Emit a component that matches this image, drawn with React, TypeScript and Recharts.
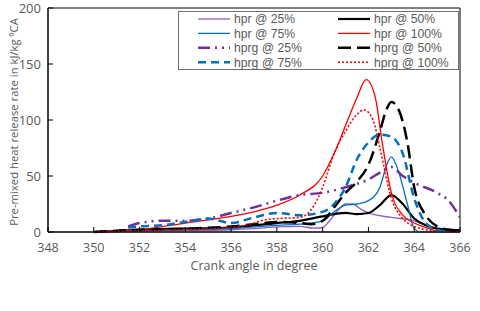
import React from 'react';
import { LineChart, Line, XAxis, YAxis, ReferenceArea } from 'recharts';

// crank angle (deg) and heat release rate (kJ/kg °CA) per series
const hpr25X = [350, 352, 354, 356, 357, 358, 359, 359.6, 360, 360.3, 360.7, 361, 361.3, 361.7, 362, 363, 364, 364.5, 365, 366];
const hpr25Y = [0, 0.5, 1, 2, 3, 4.5, 5, 3.5, 4, 10, 20, 25, 25, 20, 17, 13, 10, 6, 3, 1];

const hpr50X = [350, 352, 354, 356, 358, 359, 360, 361, 361.5, 362, 362.5, 363, 363.5, 364, 364.5, 365, 366];
const hpr50Y = [0, 2, 3, 4, 8, 10, 14, 17, 16, 17, 24, 33, 25, 12, 6, 3, 1.5];

const hpr75X = [350, 352, 354, 356, 358, 359, 360, 360.5, 361, 361.5, 362, 362.5, 362.8, 363, 363.3, 363.7, 364, 364.3, 366];
const hpr75Y = [0, 1, 2, 3, 6, 7, 10, 18, 24, 25, 28, 40, 60, 67, 55, 25, 3, 0, 0];

const hpr100X = [350, 352, 354, 356, 357, 358, 359, 360, 360.5, 361, 361.5, 361.9, 362.3, 362.6, 363, 363.5, 364, 364.5, 365, 366];
const hpr100Y = [0, 2, 8, 14, 18, 24, 33, 50, 70, 95, 120, 136, 120, 80, 35, 15, 8, 4, 1, 0];

const hprg25X = [351.5, 352, 353, 354, 355, 356, 357, 358, 359, 360, 361, 362, 362.5, 363, 363.5, 364, 365, 365.5, 366];
const hprg25Y = [5, 8, 10, 10, 12, 17, 22, 28, 33, 35, 40, 47, 53, 58, 50, 44, 35, 28, 13];

const hprg50X = [350, 352, 354, 356, 357, 358, 359, 359.5, 360, 360.5, 361, 361.5, 362, 362.5, 362.8, 363, 363.3, 363.7, 364, 364.5, 365, 365.5, 366];
const hprg50Y = [0, 2, 3, 5, 7, 9, 8, 7, 10, 22, 35, 45, 60, 90, 110, 116, 110, 80, 40, 15, 5, 2, 1];

const hprg75X = [351.5, 352, 353, 354, 355, 356, 357, 358, 359, 360, 360.5, 361, 361.5, 362, 362.5, 363, 363.5, 364, 364.5, 365, 365.5];
const hprg75Y = [4, 5, 6, 9, 12, 8, 13, 17, 15, 18, 25, 40, 65, 80, 87, 85, 70, 30, 8, 2, 0];

const hprg100X = [350, 352, 354, 356, 357, 357.5, 358, 359, 359.5, 360, 360.5, 361, 361.5, 361.8, 362.2, 362.5, 363, 363.5, 364, 364.5, 365];
const hprg100Y = [0, 1, 2, 4, 8, 11, 12, 13, 20, 40, 70, 90, 105, 109, 100, 75, 30, 12, 5, 2, 0];

const xTicks = [348, 350, 352, 354, 356, 358, 360, 362, 364, 366];
const yTicks = [0, 50, 100, 150, 200];

const toData = (xs: number[], ys: number[]) => xs.map((x, i) => ({ x, y: ys[i] }));

const series = [
  { name: 'hpr @ 25%', xs: hpr25X, ys: hpr25Y, color: '#8E5CC6', width: 1.3, dash: undefined },
  { name: 'hpr @ 50%', xs: hpr50X, ys: hpr50Y, color: '#000000', width: 2.2, dash: undefined },
  { name: 'hpr @ 75%', xs: hpr75X, ys: hpr75Y, color: '#0070C0', width: 1.3, dash: undefined },
  { name: 'hpr @ 100%', xs: hpr100X, ys: hpr100Y, color: '#FF0000', width: 1.3, dash: undefined },
  { name: 'hprg @ 25%', xs: hprg25X, ys: hprg25Y, color: '#7030A0', width: 2.5, dash: '12 5 2 5 2 5' },
  { name: 'hprg @ 50%', xs: hprg50X, ys: hprg50Y, color: '#000000', width: 2.5, dash: '13 6' },
  { name: 'hprg @ 75%', xs: hprg75X, ys: hprg75Y, color: '#0070C0', width: 2.5, dash: '8 5' },
  { name: 'hprg @ 100%', xs: hprg100X, ys: hprg100Y, color: '#FF0000', width: 1.6, dash: '2 2' },
];

const FONT = 'Open Sans, Noto Sans, sans-serif';
const LEGEND_FONT = 'Liberation Sans, Arial, sans-serif';
const GRAY = '#595959';

const LegendBox = () => (
  <div style={{ position: 'absolute', left: 178, top: 11, width: 281, height: 59, border: '1px solid #6f6f6f', boxSizing: 'border-box', background: '#fff' }}>
    <svg width={279} height={57} style={{ display: 'block', overflow: 'visible' }}>
      {series.map((s, i) => {
        const col = i % 2;
        const row = Math.floor(i / 2);
        const lx = col === 0 ? 19 : 159;
        const cy = 7 + row * 14.4;
        return (
          <g key={s.name}>
            <line x1={lx} x2={lx + 32} y1={cy} y2={cy} stroke={s.color} strokeWidth={s.width} strokeDasharray={s.dash} />
            <text x={lx + 36} y={cy + 4.3} fontSize={12.2} fill={GRAY} fontFamily={LEGEND_FONT}>{s.name}</text>
          </g>
        );
      })}
    </svg>
  </div>
);

const YLabel = (props: any) => {
  const vb = props.viewBox || { x: 0, y: 0, width: 0, height: 0 };
  const cx = vb.x - 5;
  const cy = vb.y + vb.height / 2 + 2;
  return (
    <text x={cx} y={cy} transform={`rotate(-90, ${cx}, ${cy})`} textAnchor="middle" dominantBaseline="central" fontSize={11.3} fill={GRAY} fontFamily={FONT}>
      Pre-mixed heat release rate in kJ/kg {'\u2070'}CA
    </text>
  );
};

export default function App() {
  return (
    <div style={{ position: 'absolute', left: 0, top: 0, width: 480, height: 311, background: '#fff' }}>
      <LineChart width={480} height={311} margin={{ top: 8, right: 20, left: 18, bottom: 39 }}>
        <XAxis
          type="number"
          dataKey="x"
          domain={[348, 366]}
          ticks={xTicks}
          allowDataOverflow
          stroke="#000"
          tickSize={-5}
          tickMargin={16}
          tick={{ fill: GRAY, fontSize: 12.5, fontFamily: FONT }}
          label={{ value: 'Crank  angle in degree', position: 'insideBottom', offset: 2, fill: GRAY, fontSize: 12.5, fontFamily: FONT }}
          height={40}
        />
        <YAxis
          type="number"
          domain={[0, 200]}
          ticks={yTicks}
          stroke="#000"
          tickSize={-5}
          tickMargin={12}
          width={30}
          tick={{ fill: GRAY, fontSize: 13, fontFamily: FONT }}
          label={<YLabel />}
        />
        <ReferenceArea x1={348} x2={366} y1={0} y2={200} stroke="#000" strokeWidth={1} fill="none" fillOpacity={0} ifOverflow="visible" />
        {series.map((s) => (
          <Line
            key={s.name}
            data={toData(s.xs, s.ys)}
            dataKey="y"
            name={s.name}
            type="monotone"
            stroke={s.color}
            strokeWidth={s.width}
            strokeDasharray={s.dash}
            dot={false}
            activeDot={false}
            isAnimationActive={false}
          />
        ))}
      </LineChart>
      <LegendBox />
    </div>
  );
}
